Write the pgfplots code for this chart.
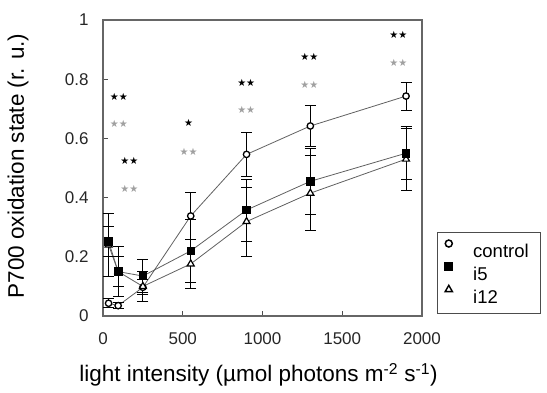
\documentclass[border=0pt]{standalone}
\usepackage{pgfplots}
\pgfplotsset{compat=1.18}
\usepackage{pgfplotstable}
\usepackage{fontspec}
\setmainfont{Liberation Sans}
\newfontfamily\djv{DejaVu Sans}
\definecolor{lgray}{HTML}{A0A0A0}
\definecolor{lnc}{HTML}{606060}

\pgfplotstableread{
x    c      ce     a      ae     b      be
35   0.043  0.015  0.252  0.050  0.240  0.105
95   0.035  0.010  0.150  0.085  0.150  0.050
250  0.097  0.025  0.135  0.055  0.100  0.050
550  0.338  0.080  0.220  0.105  0.176  0.082
900  0.546  0.075  0.358  0.105  0.319  0.116
1300 0.642  0.070  0.455  0.112  0.415  0.127
1900 0.743  0.047  0.550  0.090  0.530  0.105
}\datatab

\begin{document}
\begin{tikzpicture}
\useasboundingbox (-103pt,-76pt) rectangle (444pt,316pt);
\begin{axis}[
  at={(0,0)}, anchor=south west,
  scale only axis, width=319pt, height=296pt,
  xmin=0, xmax=2000, ymin=0, ymax=1,
  xtick={0,500,1000,1500,2000},
  xticklabels={0,500,1000,1500,2000},
  ytick={0,0.2,0.4,0.6,0.8,1},
  yticklabels={0,0.2,0.4,0.6,0.8,1},
  tick align=inside, xtick pos=bottom, ytick pos=left,
  major tick length=5pt,
  tick style={black!70, line width=0.8pt},
  axis line style={black!60, line width=1.1pt},
  ticklabel style={font=\fontsize{17}{20}\selectfont, text=black!85},
  yticklabel style={xshift=-11pt},
  xticklabel style={yshift=-13pt},
  xlabel={light intensity (µmol photons m\textsuperscript{-2} s\textsuperscript{-1})},
  ylabel={P700 oxidation state (r. u.)},
  label style={font=\fontsize{22.5}{26}\selectfont, text=black},
  xlabel style={at={(axis description cs:0.4875,-0.199)}, anchor=center},
  ylabel style={at={(axis description cs:-0.266,0.507)}, anchor=center},
  legend style={at={(axis description cs:1.047,0.007)}, anchor=south west,
    draw=black!70, line width=0.8pt, font=\fontsize{18.5}{22}\selectfont,
    legend cell align=left, inner xsep=3pt, inner ysep=6pt, row sep=0pt,
    /tikz/every even column/.append style={text width=76pt},
    nodes={text height=14pt, text depth=0pt, inner ysep=4.5pt}},
  error bars/y dir=both, error bars/y explicit,
  error bars/error mark options={rotate=90, mark size=5.5pt, black, line width=0.8pt},
  error bars/error bar style={black, line width=0.8pt},
]
\addplot[forget plot, lnc, line width=0.8pt, mark=*, mark size=3.2pt,
  mark options={fill=white, draw=black, line width=1.3pt}]
  table[x=x, y=c, y error=ce] {\datatab};
\addplot[forget plot, lnc, line width=0.8pt, mark=triangle*, mark size=4pt,
  mark options={fill=white, draw=black, line width=1.2pt}]
  table[x=x, y=b, y error=be] {\datatab};
\addplot[forget plot, lnc, line width=0.8pt, mark=square*, mark size=3.8pt,
  mark options={fill=black, draw=black}]
  table[x=x, y=a, y error=ae] {\datatab};

\pgfplotsset{legend image code/.code={\path (-8pt,6.5pt) (8pt,6.5pt); \draw[#1] plot coordinates {(0pt,6.5pt)};}}
\addlegendimage{mark=*, mark size=3.5pt, mark options={fill=white, draw=black, line width=1.5pt}}
\addlegendentry{\hspace*{14pt}control}
\addlegendimage{mark=square*, mark size=4pt, mark options={fill=black, draw=black}}
\addlegendentry{\hspace*{14pt}i5}
\addlegendimage{mark=triangle*, mark size=4.2pt, mark options={fill=white, draw=black, line width=1.4pt}}
\addlegendentry{\hspace*{14pt}i12}

\tikzset{stk/.style={font=\djv\fontsize{10}{10}\selectfont, text=black, inner sep=0pt},
         stg/.style={font=\djv\fontsize{10}{10}\selectfont, text=lgray, inner sep=0pt}}
\node[stk] at (axis cs:100,0.741) {★★};
\node[stg] at (axis cs:100,0.648) {★★};
\node[stk] at (axis cs:165,0.525) {★★};
\node[stg] at (axis cs:165,0.431) {★★};
\node[stk] at (axis cs:537,0.651) {★};
\node[stg] at (axis cs:537,0.555) {★★};
\node[stk] at (axis cs:898,0.789) {★★};
\node[stg] at (axis cs:898,0.696) {★★};
\node[stk] at (axis cs:1294,0.876) {★★};
\node[stg] at (axis cs:1294,0.780) {★★};
\node[stk] at (axis cs:1852,0.949) {★★};
\node[stg] at (axis cs:1852,0.854) {★★};
\end{axis}
\end{tikzpicture}
\end{document}
